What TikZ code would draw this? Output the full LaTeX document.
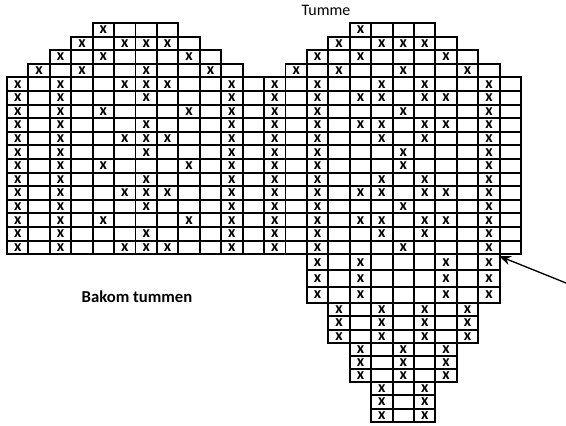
\documentclass[tikz,border=0pt]{standalone}
\usepackage{fontspec}
\setmainfont{Carlito}
\usetikzlibrary{arrows.meta}

\newcommand{\colw}{21.42}
\tikzset{cell/.style={draw, line width=1.4pt},
  stitch/.style={font=\bfseries\fontsize{12}{12}\selectfont, inner sep=0pt}}

\begin{document}
\begin{tikzpicture}[x=0.75pt, y=-0.75pt]
        \tikzstyle{every node} = [font=\fontsize{12}{14}\selectfont]
        \useasboundingbox (0,0) rectangle (566,425);
        % rows of both charts: row/first/last/marks left/marks right
        \foreach \r/\a/\b/\ml/\mr in {0/4/7/{4}/{4}, 1/3/8/{3,5,6,7}/{3,5,6,7},
            2/2/9/{2,4,8}/{2,4,8}, 3/1/10/{1,3,6,9}/{1,3,6,9},
            4/0/11/{0,2,5,6,7,10}/{0,2,5,7,10}, 5/0/11/{0,2,6,10}/{0,2,4,5,7,8,10},
            6/0/11/{0,2,4,8,10}/{0,2,6,10}, 7/0/11/{0,2,6,10}/{0,2,4,5,7,8,10},
            8/0/11/{0,2,5,6,7,10}/{0,2,5,7,10}, 9/0/11/{0,2,6,10}/{0,2,6,10},
            10/0/11/{0,2,4,8,10}/{0,2,6,10}, 11/0/11/{0,2,6,10}/{0,2,5,7,10},
            12/0/11/{0,2,5,6,7,10}/{0,2,4,5,7,8,10}, 13/0/11/{0,2,6,10}/{0,2,6,10},
            14/0/11/{0,2,4,8,10}/{0,2,4,5,7,8,10}, 15/0/11/{0,2,6,10}/{0,2,5,7,10},
            16/0/11/{0,2,5,6,7,10}/{0,2,6,10}}{
          \foreach \c in {\a,...,\b}{
            \draw[cell] ({7+\colw*\c},{23+13.6*\r}) rectangle ++(\colw,13.6);
            \draw[cell] ({7+\colw*(\c+12)},{23+13.6*\r}) rectangle ++(\colw,13.6);
          }
          \foreach \c in \ml
            \node[stitch] (l-\r-\c) at ({7+\colw*(\c+0.5)},{23+13.6*(\r+0.5)}) {x};
          \foreach \c in \mr
            \node[stitch] (r-\r-\c) at ({7+\colw*(\c+12.5)},{23+13.6*(\r+0.5)}) {x};
        }
        % gusset below the thumb, three rows per step
        \foreach \t/\h/\a/\b/\m in {254/16.33/2/10/{2,4,8,10}, 303/13.33/3/9/{3,5,7,9},
            343/13/4/8/{4,6,8}, 382/13.33/5/7/{5,7}}{
          \foreach \k in {0,1,2}{
            \foreach \c in {\a,...,\b}
              \draw[cell] ({7+\colw*(\c+12)},{\t+\h*\k}) rectangle ++(\colw,\h);
            \foreach \c in \m
              \node[stitch] (g-\t-\k-\c) at ({7+\colw*(\c+12.5)},{\t+\h*(\k+0.5)}) {x};
          }
        }
        \node(Tumme) at (326,10) {Tumme};
        \node[font=\bfseries\fontsize{12.5}{14}\selectfont](Bakom) at (137,297) {Bakom tummen};
        \coordinate(Hit) at (499,256);
        \coordinate(Tail) at (566,283);
        \draw [-{Stealth[length=9pt,width=7pt]}, line width=1pt] (Tail) -- (Hit);

    \end{tikzpicture}
\end{document}
